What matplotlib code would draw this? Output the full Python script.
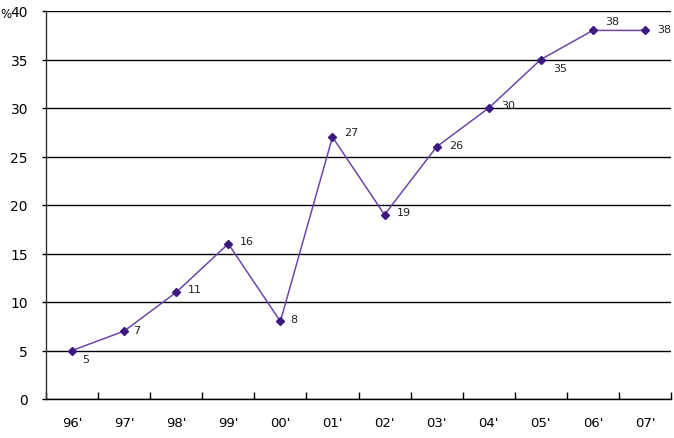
import numpy as np
import matplotlib
matplotlib.use("Agg")
import matplotlib.pyplot as plt

years = ["96'", "97'", "98'", "99'", "00'", "01'", "02'", "03'", "04'", "05'", "06'", "07'"]
values = [5, 7, 11, 16, 8, 27, 19, 26, 30, 35, 38, 38]

# label offsets in pixels (dx, dy)
offs = [(10, -9), (9, 1), (12, 3), (12, 3), (10, 2), (12, 5),
        (12, 3), (12, 2), (12, 3), (12, -9), (12, 9), (12, 1)]

fig = plt.figure(figsize=(6.74, 4.39), dpi=100)
ax = fig.add_axes([46/674, 39/439, 625/674, 388/439])

x = np.arange(len(years))
ax.plot(x, values, color="#6a48a8", lw=1.1, marker="D", ms=4,
        mfc="#3a1a80", mec="#3a1a80", zorder=3)

for xi, v, (dx, dy) in zip(x, values, offs):
    ax.annotate(str(v), (xi, v), xytext=(dx, dy), textcoords="offset pixels",
                ha="left", va="center", fontsize=8, color="#222222")

ax.set_xlim(-0.5, len(years) - 0.5)
ax.set_ylim(0, 40)
ax.set_yticks(range(0, 41, 5))
ax.set_yticklabels([str(v) for v in range(0, 41, 5)], fontsize=10)
ax.set_xticks(x)
ax.set_xticklabels(years, fontsize=9.5)
ax.tick_params(axis="x", which="major", length=0, pad=12)
ax.set_xticks(np.arange(-0.5, len(years), 1), minor=True)
ax.tick_params(axis="x", which="minor", direction="in", length=5, width=1)
ax.tick_params(axis="y", length=3, width=1, pad=10)
ax.grid(axis="y", color="black", lw=1)
ax.spines["top"].set_visible(False)
ax.spines["right"].set_visible(False)
ax.spines["left"].set_linewidth(1)
ax.spines["bottom"].set_linewidth(1)
ax.spines["left"].set_color("#333333")
ax.set_axisbelow(True)

fig.text(0, 1 - 14/439, "%", fontsize=8.5, va="center", ha="left")

fig.savefig("out.png", dpi=100)
